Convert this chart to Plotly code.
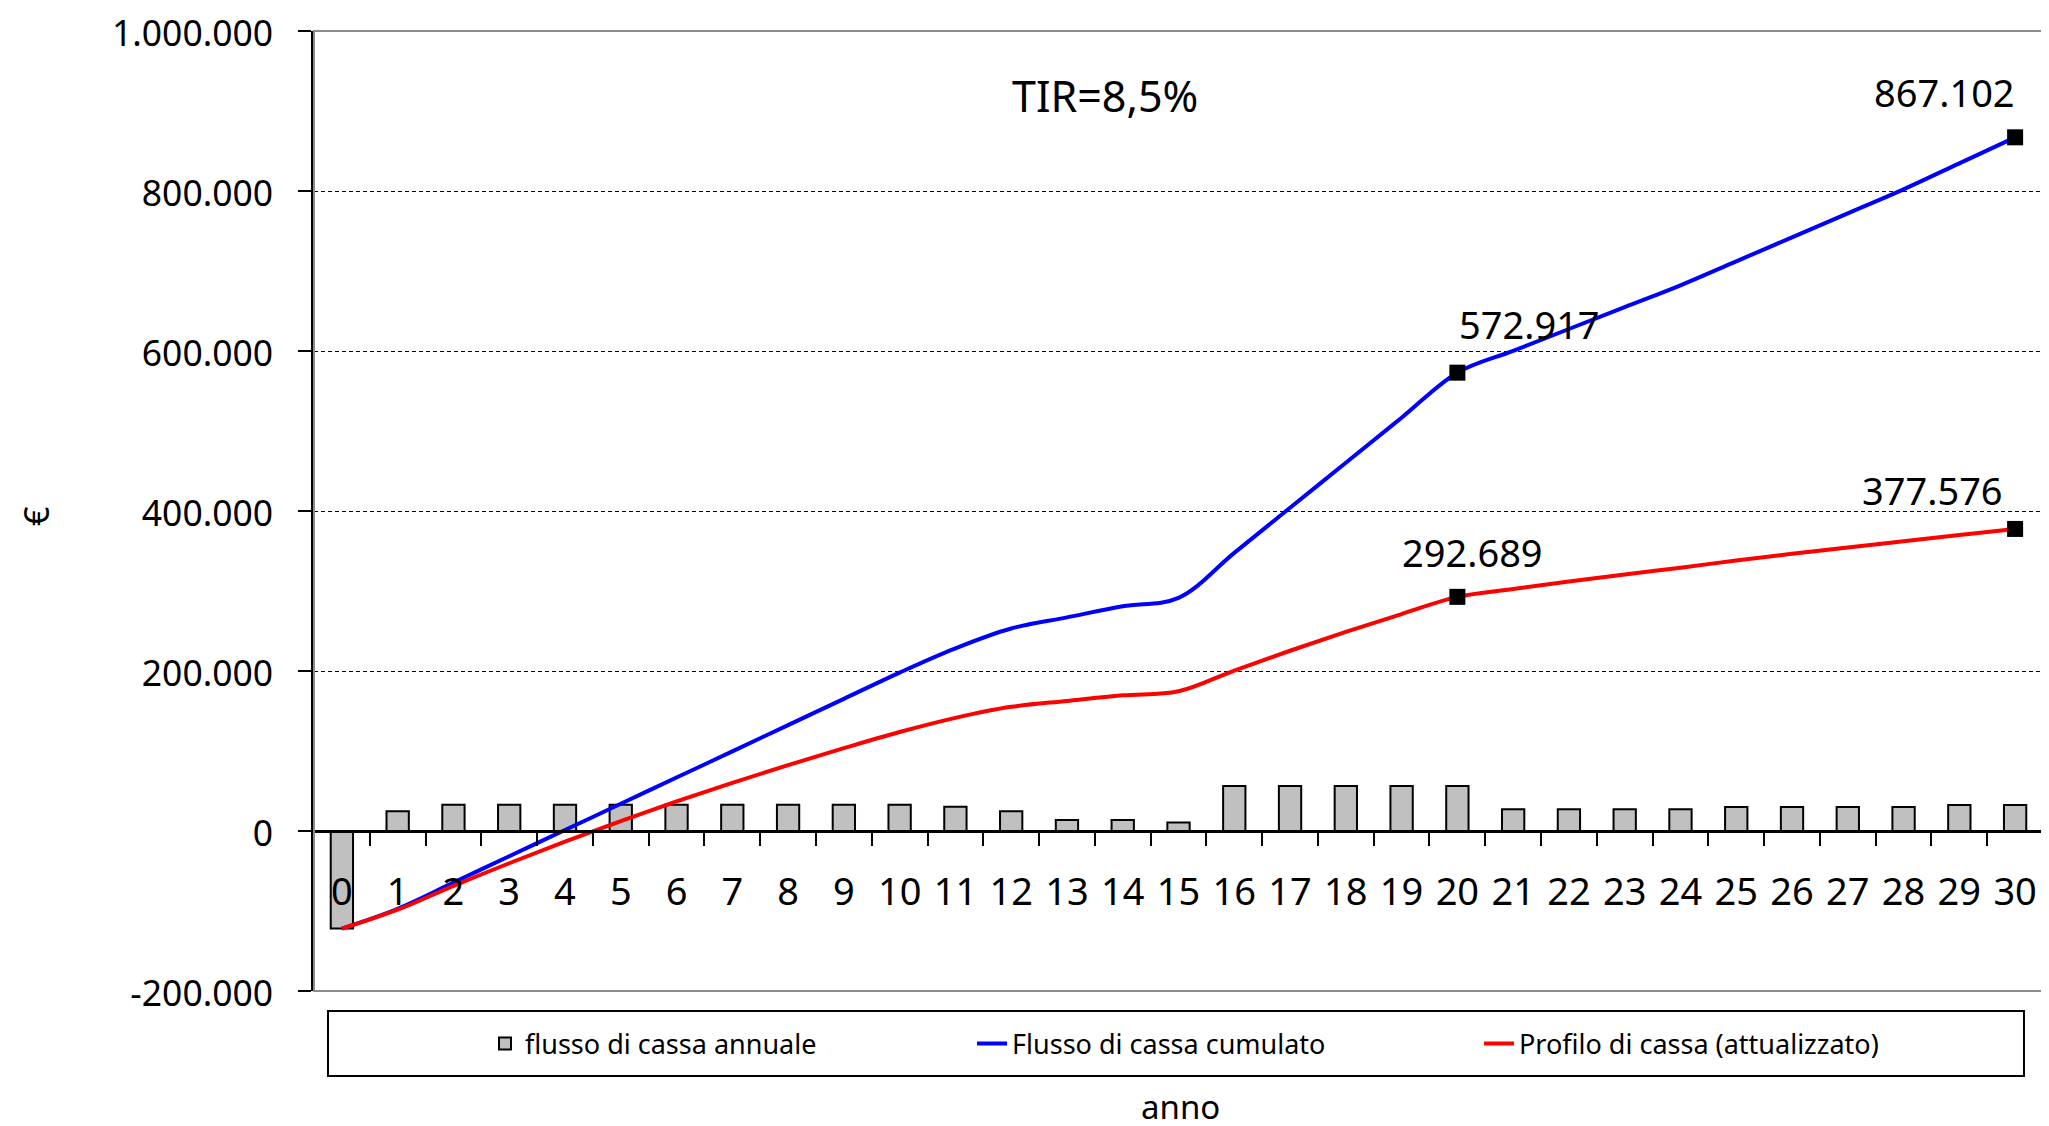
import plotly.graph_objects as go

# ---- data ----
anni = [str(i) for i in range(31)]
flusso_annuale = [-122000, 24800, 32800, 32800, 32800, 32800, 32800, 32800, 32800, 32800,
                  32800, 30300, 24800, 13900, 13900, 10500, 56300, 56300, 56300, 56300,
                  56300, 27300, 27300, 27300, 27300, 30000, 30000, 30000, 30000, 32500, 32500]
flusso_cumulato = [-122000, -97200, -64400, -31600, 1200, 34000, 66800, 99600, 132400, 165200,
                   198000, 228300, 253100, 267000, 280900, 291400, 347700, 404000, 460300, 516600,
                   572917, 600200, 627500, 654800, 682100, 712100, 742100, 772100, 802100, 834600,
                   867102]
profilo_attualizzato = [-122000, -98400, -68600, -40300, -13300, 12400, 36900, 60200, 82400, 103500,
                        123700, 141400, 155200, 162600, 169600, 174600, 200600, 225300, 248800, 271200,
                        292689, 302500, 311800, 320700, 329200, 338000, 346500, 354500, 362200, 370100,
                        377576]
y_tick_vals = [-200000, 0, 200000, 400000, 600000, 800000, 1000000]
y_tick_text = ["-200.000", "0", "200.000", "400.000", "600.000", "800.000", "1.000.000"]
punti_evidenziati = [20, 30]
tir_text = "TIR=8,5%"

FONT = "Noto Sans"

def fmt(v):
    return f"{v:,.0f}".replace(",", ".")

fig = go.Figure()

fig.add_trace(go.Bar(
    x=anni, y=flusso_annuale, name="flusso di cassa annuale", legend="legend",
    width=0.4,
    marker=dict(color="#C0C0C0", line=dict(color="black", width=2)),
))
fig.add_trace(go.Scatter(
    x=anni, y=flusso_cumulato, name="Flusso di cassa cumulato", mode="lines", legend="legend2",
    line=dict(color="#0000FF", width=4, shape="spline"),
))
fig.add_trace(go.Scatter(
    x=anni, y=profilo_attualizzato, name="Profilo di cassa (attualizzato)", mode="lines",
    legend="legend3",
    line=dict(color="#FF0000", width=4, shape="spline"),
))
# highlighted square markers
for serie in (flusso_cumulato, profilo_attualizzato):
    fig.add_trace(go.Scatter(
        x=[anni[i] for i in punti_evidenziati], y=[serie[i] for i in punti_evidenziati],
        mode="markers", showlegend=False,
        marker=dict(symbol="square", size=16, color="black"),
    ))

# value labels
label_offsets = {
    ("c", 20): (72, 49), ("c", 30): (-71, 45),
    ("p", 20): (15, 45), ("p", 30): (-83, 39),
}
for key, serie in (("c", flusso_cumulato), ("p", profilo_attualizzato)):
    for i in punti_evidenziati:
        dx, dy = label_offsets[(key, i)]
        fig.add_annotation(x=anni[i], y=serie[i], text=fmt(serie[i]), showarrow=False,
                           xanchor="center", yanchor="middle",
                           xshift=dx, yshift=dy, font=dict(family=FONT, size=38, color="black"))

fig.add_annotation(xref="paper", yref="paper", x=0.4575, y=0.9323, text=tir_text,
                   xanchor="center", yanchor="middle",
                   showarrow=False, font=dict(family=FONT, size=43, color="black"))
fig.add_annotation(xref="paper", yref="paper", x=0.5009, y=-0.1208, text="anno",
                   xanchor="center", yanchor="middle",
                   showarrow=False, font=dict(family=FONT, size=33, color="black"))
fig.add_annotation(xref="paper", yref="paper", x=-0.1608, y=0.4948, text="€", textangle=-90,
                   xanchor="center", yanchor="middle",
                   showarrow=False, font=dict(family=FONT, size=34, color="black"))

# plot-area border and legend box
fig.add_shape(type="rect", xref="paper", yref="paper", x0=0, x1=1, y0=0, y1=1,
              line=dict(color="#8C8C8C", width=2), layer="above")
fig.add_shape(type="rect", xref="paper", yref="paper", x0=0.0081, x1=0.989, y0=-0.0885, y1=-0.0208,
              line=dict(color="black", width=2))

legend_common = dict(orientation="h", xanchor="left", y=-0.0552, yanchor="middle",
                     font=dict(family=FONT, size=27), bgcolor="rgba(0,0,0,0)", borderwidth=0)

fig.update_layout(
    width=2049, height=1126,
    margin=dict(l=306, r=14, t=23, b=143, autoexpand=False),
    paper_bgcolor="white", plot_bgcolor="white",
    font=dict(family=FONT, color="black"),
    showlegend=True,
    legend=dict(x=0.0989, **legend_common),
    legend2=dict(x=0.3806, **legend_common),
    legend3=dict(x=0.6738, **legend_common),
    xaxis=dict(
        type="category", range=[-0.5, 30.5], anchor="free", position=1/6,
        showline=True, linecolor="black", linewidth=3,
        ticks="outside", tickson="boundaries", ticklen=13, tickwidth=1.5, tickcolor="black",
        tickfont=dict(family=FONT, size=38), ticklabelstandoff=26,
        showgrid=False, zeroline=False, automargin=False,
    ),
    yaxis=dict(
        range=[-200000, 1000000], tickvals=y_tick_vals, ticktext=y_tick_text,
        showline=True, linecolor="black", linewidth=2.5,
        ticks="outside", ticklen=13, tickwidth=1.5, tickcolor="black",
        tickfont=dict(family=FONT, size=35.5), ticklabelstandoff=18, ticklabelshift=3,
        ticklabeloverflow="allow",
        showgrid=True, gridcolor="black", gridwidth=1, griddash="4px,3px",
        zeroline=False, automargin=False,
    ),
)

fig.write_html("out.html")
